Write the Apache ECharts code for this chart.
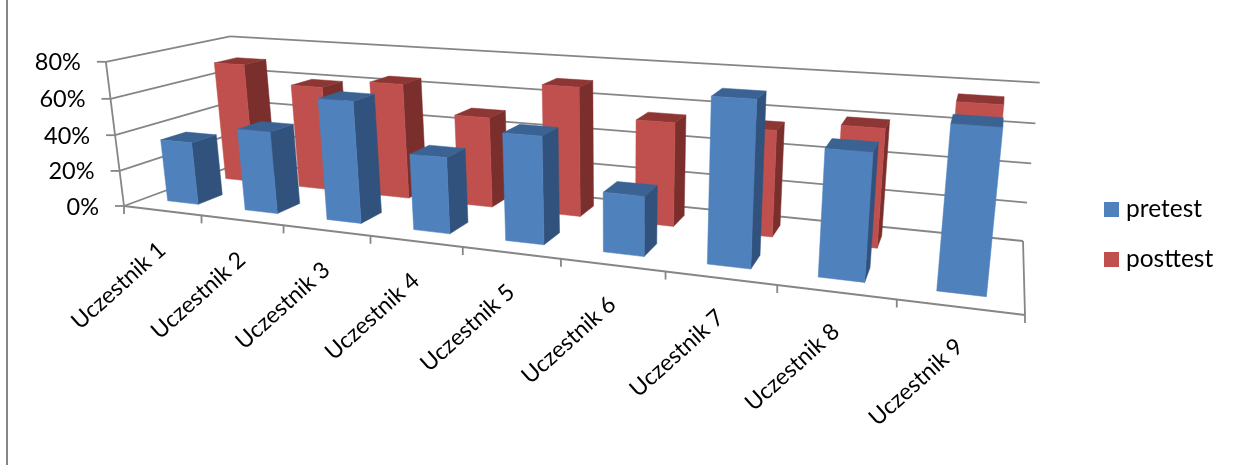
<!DOCTYPE html>
<html>
<head>
<meta charset="utf-8">
<style>html,body{margin:0;padding:0;background:#fff}#chart{width:1233px;height:465px}</style>
<script src="https://cdn.jsdelivr.net/npm/echarts@6/dist/echarts.min.js"></script>
</head>
<body>
<div id="chart"></div>
<script>
const categories = ['Uczestnik 1','Uczestnik 2','Uczestnik 3','Uczestnik 4','Uczestnik 5','Uczestnik 6','Uczestnik 7','Uczestnik 8','Uczestnik 9'];
const pretest  = [35,45,65,40,55,30,80,60,75];
const posttest = [70,60,65,50,70,55,55,60,75];
const valueTicks = [0,20,40,60,80];
const axisMax = 80;

const FONT = 'Lato';
const GREY = '#868686';
const PALETTE = {
  pretest:  {front:'#4F81BD', side:'#30527D', top:'#3A6394'},
  posttest: {front:'#C0504D', side:'#7A2F2D', top:'#8E3634'}
};

// Camera: pixel positions of the plot box corners; (x along categories, d into depth, h up)
const FL=[124,206], FR=[1025,315], BR=[1023,241], BL=[242,162.3];
const FLT=[108,62], BLT=[228,36], BRT=[1040,83];

function solve(A,b){
  const n=b.length, M=A.map((r,i)=>r.concat(b[i]));
  for(let i=0;i<n;i++){
    let p=i; for(let k=i+1;k<n;k++) if(Math.abs(M[k][i])>Math.abs(M[p][i])) p=k;
    [M[i],M[p]]=[M[p],M[i]];
    for(let k=i+1;k<n;k++){const f=M[k][i]/M[i][i]; for(let j=i;j<=n;j++) M[k][j]-=f*M[i][j];}
  }
  const x=new Array(n).fill(0);
  for(let i=n-1;i>=0;i--){let s=M[i][n]; for(let j=i+1;j<n;j++) s-=M[i][j]*x[j]; x[i]=s/M[i][i];}
  return x;
}
// Floor plane homography, then a least-squares fit of the vertical column
const floorH=(function(){
  const pts=[[0,0,FL],[1,0,FR],[1,1,BR],[0,1,BL]], A=[], b=[];
  pts.forEach(([u,v,p])=>{
    A.push([u,v,1,0,0,0,-u*p[0],-v*p[0]]); b.push(p[0]);
    A.push([0,0,0,u,v,1,-u*p[1],-v*p[1]]); b.push(p[1]);
  });
  return solve(A,b);
})();
const col1=[floorH[0],floorH[3],floorH[6]], col2=[floorH[1],floorH[4],floorH[7]], col4=[floorH[2],floorH[5],1];
const col3=(function(){
  const rows=[], rhs=[];
  [[0,0,FLT],[0,1,BLT],[1,1,BRT]].forEach(([u,v,p])=>{
    const X=col1[0]*u+col2[0]*v+col4[0], Y=col1[1]*u+col2[1]*v+col4[1], W=col1[2]*u+col2[2]*v+col4[2];
    rows.push([1,0,-p[0]]); rhs.push(p[0]*W-X);
    rows.push([0,1,-p[1]]); rhs.push(p[1]*W-Y);
  });
  const N=[[0,0,0],[0,0,0],[0,0,0]], t=[0,0,0];
  rows.forEach((r,k)=>{for(let i=0;i<3;i++){t[i]+=r[i]*rhs[k]; for(let j=0;j<3;j++) N[i][j]+=r[i]*r[j];}});
  return solve(N,t);
})();
function project(u,d,h){
  const w=col1[2]*u+col2[2]*d+col3[2]*h+col4[2];
  return [(col1[0]*u+col2[0]*d+col3[0]*h+col4[0])/w,(col1[1]*u+col2[1]*d+col3[1]*h+col4[1])/w];
}
// Turns a point of the hidden value grid into unit box coordinates
function toUnit(api,params,cat,val){
  const p=api.coord([cat,val]), c=params.coordSys;
  return [(p[0]-c.x)/c.width,(c.y+c.height-p[1])/c.height];
}
function bandWidth(api,params){return api.size([1,0])[0]/params.coordSys.width;}
function area(pts){let s=0;pts.forEach((p,i)=>{const q=pts[(i+1)%pts.length];s+=p[0]*q[1]-q[0]*p[1];});return s;}
function face(pts,fill){return {type:'polygon',shape:{points:pts},style:{fill:fill,stroke:fill,lineWidth:0.5}};}

function barRenderer(name,d0,d1){
  const col=PALETTE[name];
  return function(params,api){
    const cat=api.value(0), val=api.value(1);
    const mid=toUnit(api,params,cat,val);
    const half=bandWidth(api,params)*0.2;
    const u0=mid[0]-half,u1=mid[0]+half,h=mid[1];
    const a=project(u0,d0,0),b=project(u1,d0,0),c=project(u1,d0,h),e=project(u0,d0,h);
    const f=project(u0,d1,0),g=project(u1,d1,0),i=project(u1,d1,h),j=project(u0,d1,h);
    const kids=[];
    const right=[b,g,i,c], left=[f,a,e,j];
    // Only the box walls that face the camera are painted
    if(area(right)<0) kids.push(face(right,col.side));
    if(area(left)<0) kids.push(face(left,col.side));
    kids.push(face([e,c,i,j],col.top));
    kids.push(face([a,b,c,e],col.front));
    return {type:'group',children:kids};
  };
}

const line=(p,q,w)=>({type:'line',shape:{x1:p[0],y1:p[1],x2:q[0],y2:q[1]},style:{stroke:GREY,lineWidth:w||1.8}});

function frameRenderer(params,api){
  const kind=api.value(0), idx=api.value(1);
  if(kind===0){
    // Value gridlines over the side and back walls, with tick and label
    const v=valueTicks[idx];
    const h=toUnit(api,params,0,v)[1];
    const p0=project(0,0,h),p1=project(0,1,h),p2=project(1,1,h);
    return {type:'group',children:[
      line(p0,p1),line(p1,p2),line([p0[0]-9,p0[1]],p0),
      {type:'text',x:p0[0]-25,y:p0[1]+1,style:{text:v+'%',font:'23.5px '+FONT,fill:'#000',align:'right',verticalAlign:'middle'}}
    ]};
  }
  if(kind===1){
    // Category ticks on the front edge of the floor
    const u=idx*bandWidth(api,params);
    const p=project(u,0,0);
    return line(p,[p[0],p[1]+8]);
  }
  if(kind===2){
    const u=toUnit(api,params,idx,0)[0];
    const p=project(u,0,0);
    return {type:'text',x:p[0],y:p[1]+36,rotation:42*Math.PI/180,
      style:{text:categories[idx],font:'23px '+FONT,fill:'#000',align:'right',verticalAlign:'middle'}};
  }
  // Box edges: front axis, value axis, right floor edge
  return {type:'group',children:[
    line(project(0,0,0),project(1,0,0),2.2),
    line(project(0,0,0),project(0,0,1)),
    line(project(1,0,0),project(1,1,0))
  ]};
}

const frameData=[[3,0]]
  .concat(valueTicks.map((v,i)=>[0,i]))
  .concat(categories.map((c,i)=>[1,i]),[[1,categories.length]])
  .concat(categories.map((c,i)=>[2,i]));

const chart=echarts.init(document.getElementById('chart'),null,{renderer:'canvas'});
chart.setOption({
  animation:false,
  backgroundColor:'#fff',
  textStyle:{fontFamily:FONT},
  grid:{left:0,right:0,top:0,bottom:0},
  xAxis:{type:'category',data:categories,show:false,boundaryGap:true},
  yAxis:{type:'value',min:0,max:axisMax,interval:20,show:false},
  legend:{orient:'vertical',left:1104,top:197,padding:0,itemWidth:15,itemHeight:15,itemGap:25,icon:'rect',
    data:['pretest','posttest'],textStyle:{fontFamily:FONT,fontSize:24.5,color:'#000',padding:[0,0,0,2]},selectedMode:false},
  graphic:[{type:'line',shape:{x1:7,y1:0,x2:7,y2:465},style:{stroke:'#868686',lineWidth:2}}],
  series:[
    {type:'custom',name:'frame',z:1,silent:true,data:frameData,encode:{x:-1,y:-1},renderItem:frameRenderer,clip:false},
    {type:'custom',name:'posttest',z:2,silent:true,itemStyle:{color:PALETTE.posttest.front},
      data:posttest.map((v,i)=>[i,v]),encode:{x:0,y:1},renderItem:barRenderer('posttest',0.65,0.85),clip:false},
    {type:'custom',name:'pretest',z:3,silent:true,itemStyle:{color:PALETTE.pretest.front},
      data:pretest.map((v,i)=>[i,v]),encode:{x:0,y:1},renderItem:barRenderer('pretest',0.16,0.36),clip:false}
  ]
});
</script>
</body>
</html>
